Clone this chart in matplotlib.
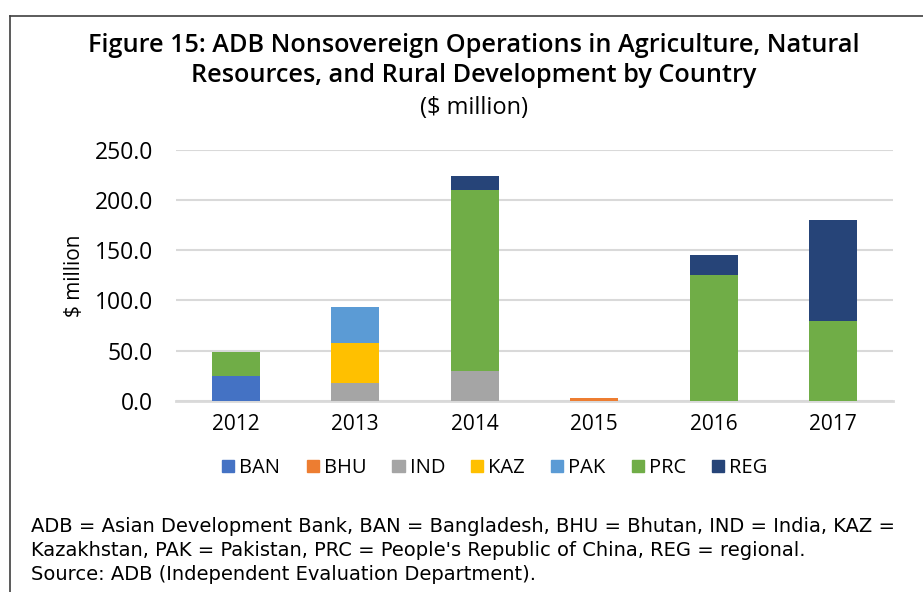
"""Figure 15: ADB nonsovereign operations in ANR by country, stacked bars."""

import matplotlib

matplotlib.use("Agg")
import matplotlib.pyplot as plt
from matplotlib.lines import Line2D
from matplotlib.patches import Patch

years = ["2012", "2013", "2014", "2015", "2016", "2017"]
countries = ["BAN", "BHU", "IND", "KAZ", "PAK", "PRC", "REG"]

ban = [24.6, 0, 0, 0, 0, 0]
bhu = [0, 0, 0, 2.5, 0, 0]
ind = [0, 18.0, 30.0, 0, 0, 0]
kaz = [0, 40.0, 0, 0, 0, 0]
pak = [0, 35.5, 0, 0, 0, 0]
prc = [24.0, 0, 180.0, 0, 125.0, 80.0]
reg = [0, 0, 14.0, 0, 20.0, 100.0]

series = [ban, bhu, ind, kaz, pak, prc, reg]
colors = ["#4472C4", "#ED7D31", "#A5A5A5", "#FFC000", "#5B9BD5", "#70AD47", "#264478"]

body_font = "Open Sans"
note_font = "DejaVu Sans"

fig = plt.figure(figsize=(9.23, 5.92), dpi=100)
ax = fig.add_axes([176 / 923, 1 - 401 / 592, 717 / 923, (401 - 149.7) / 592])

x = range(len(years))
bottom = [0.0] * len(years)
for name, vals, col in zip(countries, series, colors):
    ax.bar(x, vals, width=0.4, bottom=bottom, color=col, label=name, zorder=3)
    bottom = [b + v for b, v in zip(bottom, vals)]

ax.set_xlim(-0.5, len(years) - 0.5)
ax.set_ylim(0, 250)
yt = [0, 50, 100, 150, 200, 250]
ax.set_yticks(yt)
ax.set_yticklabels([f"{v:.1f}" for v in yt], fontsize=16.5, family=body_font, color="#000000")
ax.set_xticks(list(x))
ax.set_xticklabels(years, fontsize=15, family=body_font)
ax.tick_params(length=0)
ax.tick_params(axis="x", pad=9)
ax.tick_params(axis="y", pad=16.5)
ax.grid(axis="y", color="#D9D9D9", linewidth=1.5, zorder=0)
for side in ["top", "right", "left"]:
    ax.spines[side].set_visible(False)
ax.spines["bottom"].set_color("#D9D9D9")
ax.spines["bottom"].set_linewidth(2)
ax.set_ylabel("$ million", fontsize=15, family=body_font, labelpad=7)

handles = [Patch(color=c) for c in colors]
fig.legend(handles, countries, loc="center", bbox_to_anchor=(495 / 923, 1 - 468 / 592),
           ncol=7, frameon=False, prop={"family": body_font, "size": 14.5},
           handlelength=0.6, handleheight=0.6, handletextpad=0.25, columnspacing=1.3)

title_x = 0.5 + 12 / 923
fig.text(title_x, 1 - 45 / 592, "Figure 15: ADB Nonsovereign Operations in Agriculture, Natural",
         ha="center", va="center", fontsize=18.2, family=body_font, fontweight="semibold")
fig.text(title_x, 1 - 76 / 592, "Resources, and Rural Development by Country",
         ha="center", va="center", fontsize=18.2, family=body_font, fontweight="semibold")
fig.text(title_x, 1 - 108 / 592, "($ million)",
         ha="center", va="center", fontsize=17, family=body_font)

notes = [
    "ADB = Asian Development Bank, BAN = Bangladesh, BHU = Bhutan, IND = India, KAZ =",
    "Kazakhstan, PAK = Pakistan, PRC = People's Republic of China, REG = regional.",
    "Source: ADB (Independent Evaluation Department).",
]
for i, line in enumerate(notes):
    fig.text(31 / 923, 1 - (526 + i * 24) / 592, line, ha="left", va="center",
             fontsize=14, family=note_font)

# frame around the figure (only top and left edges fall inside the crop)
fig.add_artist(Line2D([9.5 / 923, 9.5 / 923], [0, 1 - 15.5 / 592], color="#404040",
                      linewidth=1.2, transform=fig.transFigure))
fig.add_artist(Line2D([9.5 / 923, 1], [1 - 15.5 / 592, 1 - 15.5 / 592], color="#404040",
                      linewidth=1.2, transform=fig.transFigure))

fig.savefig("out.png", dpi=100)
